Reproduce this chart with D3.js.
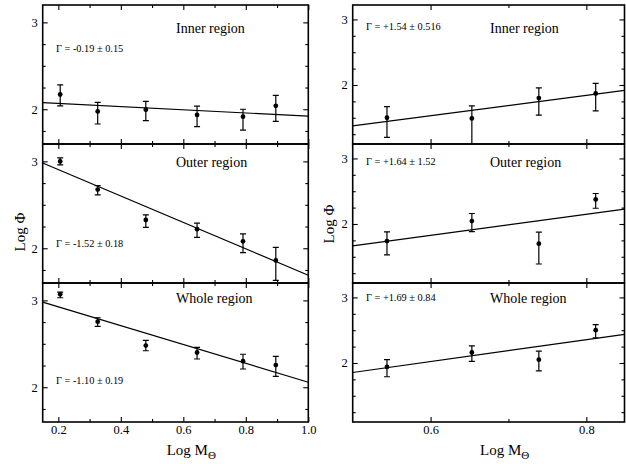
<!DOCTYPE html>
<html><head><meta charset="utf-8">
<script src="https://cdn.jsdelivr.net/npm/d3@7"></script>
<style>
body{margin:0;background:#fff;}
svg{display:block;}
svg text{font-family:"Liberation Serif","Times New Roman",serif !important;}
</style></head><body>
<svg id="c" width="626" height="464"></svg>
<script>
// ---------- data ----------
const leftMass  = [0.206, 0.326, 0.48, 0.644, 0.791, 0.896];
const rightMass = [0.544, 0.653, 0.739, 0.812];
const regionNames = ["Inner region", "Outer region", "Whole region"];

const leftInnerPhi  = [2.17, 1.975, 1.995, 1.935, 1.915, 2.04];
const leftInnerTop  = [2.28, 2.08, 2.09, 2.035, 2.00, 2.16];
const leftInnerBot  = [2.04, 1.83, 1.87, 1.80, 1.76, 1.86];
const leftOuterPhi  = [3.00, 2.675, 2.325, 2.22, 2.08, 1.86];
const leftOuterTop  = [3.04, 2.72, 2.385, 2.29, 2.165, 2.01];
const leftOuterBot  = [2.96, 2.615, 2.24, 2.125, 1.95, 1.63];
const leftWholePhi  = [3.07, 2.755, 2.48, 2.40, 2.30, 2.255];
const leftWholeTop  = [3.095, 2.80, 2.54, 2.46, 2.38, 2.355];
const leftWholeBot  = [3.03, 2.70, 2.42, 2.325, 2.21, 2.125];

const rightInnerPhi = [1.50, 1.49, 1.80, 1.87];
const rightInnerTop = [1.67, 1.68, 1.955, 2.025];
const rightInnerBot = [1.20, 1.05, 1.54, 1.605];
const rightOuterPhi = [1.74, 2.045, 1.70, 2.375];
const rightOuterTop = [1.88, 2.16, 1.875, 2.465];
const rightOuterBot = [1.53, 1.885, 1.39, 2.24];
const rightWholePhi = [1.94, 2.16, 2.05, 2.50];
const rightWholeTop = [2.05, 2.26, 2.18, 2.585];
const rightWholeBot = [1.79, 2.025, 1.88, 2.385];

const leftGamma  = ["\u0393 = -0.19 \u00b1 0.15", "\u0393 = -1.52 \u00b1 0.18", "\u0393 = -1.10 \u00b1 0.19"];
const rightGamma = ["\u0393 = +1.54 \u00b1 0.516", "\u0393 = +1.64 \u00b1 1.52", "\u0393 = +1.69 \u00b1 0.84"];
const leftSlope      = [-0.185, -1.52, -1.085];
const leftIntercept  = [2.105, 3.209, 3.143];
const rightSlope     = [1.554, 1.61, 1.67];
const rightIntercept = [0.599, 0.86, 1.02];

const leftXMajor  = [0.2, 0.4, 0.6, 0.8, 1.0];
const leftXMinor  = [0.3, 0.5, 0.7, 0.9];
const rightXMajor = [0.6, 0.8];
const rightXMinor = [0.7];
const yMajor      = [2, 3];
const leftYMinor  = [1.75, 2.25, 2.5, 2.75];
const rightYMinor = [1.25, 1.5, 1.75, 2.25, 2.5, 2.75];

// ---------- layout ----------
const svg = d3.select("#c");
const rowTops = [5, 144, 283];
const rowH = 139;
const nameOffset = [28, 22.7, 19.7];
const leftGammaY  = [47, 102.7, 101];
const rightGammaY = [25, 21, 18];

const cols = [
  {x0: 42.7, x1: 308.3, xdom: [0.15, 1.0], ydom: [1.6, 3.2], mass: leftMass,
   phi: [leftInnerPhi, leftOuterPhi, leftWholePhi],
   top: [leftInnerTop, leftOuterTop, leftWholeTop],
   bot: [leftInnerBot, leftOuterBot, leftWholeBot],
   gamma: leftGamma, gy: leftGammaY, slope: leftSlope, icpt: leftIntercept,
   xMaj: leftXMajor, xMin: leftXMinor, yMin: leftYMinor,
   nameX: 133.3, ytitleX: 25, ytitleY: 232, xtitleX: 166.7},
  {x0: 352.7, x1: 624.5, xdom: [0.5, 0.849], ydom: [1.1, 3.22], mass: rightMass,
   phi: [rightInnerPhi, rightOuterPhi, rightWholePhi],
   top: [rightInnerTop, rightOuterTop, rightWholeTop],
   bot: [rightInnerBot, rightOuterBot, rightWholeBot],
   gamma: rightGamma, gy: rightGammaY, slope: rightSlope, icpt: rightIntercept,
   xMaj: rightXMajor, xMin: rightXMinor, yMin: rightYMinor,
   nameX: 137.3, ytitleX: 334, ytitleY: 224, xtitleX: 480}
];

cols.forEach((c, ci) => {
  const x = d3.scaleLinear().domain(c.xdom).range([c.x0, c.x1]);
  for (let r = 0; r < 3; r++) {
    const t = rowTops[r], b = t + rowH;
    const y = d3.scaleLinear().domain(c.ydom).range([b, t]);
    const clipId = `clip${ci}${r}`;
    svg.append("clipPath").attr("id", clipId).append("rect")
      .attr("x", c.x0).attr("y", t).attr("width", c.x1 - c.x0).attr("height", rowH);
    const g = svg.append("g");
    const plot = g.append("g").attr("clip-path", `url(#${clipId})`);

    // fit line
    const line = d3.line().x(d => x(d)).y(d => y(c.icpt[r] + c.slope[r] * d));
    plot.append("path").datum(c.xdom).attr("d", line)
      .attr("fill", "none").attr("stroke", "#000").attr("stroke-width", 1.2);

    // error bars
    const pts = c.mass.map((m, i) => ({m, v: c.phi[r][i], hi: c.top[r][i], lo: c.bot[r][i]}));
    const eb = plot.selectAll(".eb").data(pts).enter().append("g");
    eb.append("line").attr("x1", d => x(d.m)).attr("x2", d => x(d.m))
      .attr("y1", d => y(d.hi)).attr("y2", d => y(d.lo))
      .attr("stroke", "#000").attr("stroke-width", 1.2);
    ["hi", "lo"].forEach(k => {
      eb.append("line").attr("x1", d => x(d.m) - 3).attr("x2", d => x(d.m) + 3)
        .attr("y1", d => y(d[k])).attr("y2", d => y(d[k]))
        .attr("stroke", "#000").attr("stroke-width", 1.2);
    });
    eb.append("circle").attr("cx", d => x(d.m)).attr("cy", d => y(d.v)).attr("r", 2.4).attr("fill", "#000");

    // axes (ticks pointing inward)
    const axStyle = sel => { sel.select(".domain").remove(); sel.selectAll("line").attr("stroke", "#000").attr("stroke-width", 1.1); };
    g.append("g").attr("transform", `translate(${c.x0},0)`)
      .call(d3.axisLeft(y).tickValues(yMajor).tickSize(-5).tickPadding(5).tickFormat(d3.format("d")))
      .call(axStyle)
      .call(s => s.selectAll("text").attr("font-size", 12.5).attr("fill", "#000"));
    g.append("g").attr("transform", `translate(${c.x0},0)`)
      .call(d3.axisLeft(y).tickValues(c.yMin).tickSize(-3).tickFormat("")).call(axStyle);
    g.append("g").attr("transform", `translate(${c.x1},0)`)
      .call(d3.axisRight(y).tickValues(yMajor).tickSize(-5).tickFormat("")).call(axStyle);
    g.append("g").attr("transform", `translate(${c.x1},0)`)
      .call(d3.axisRight(y).tickValues(c.yMin).tickSize(-3).tickFormat("")).call(axStyle);

    g.append("g").attr("transform", `translate(0,${t})`)
      .call(d3.axisTop(x).tickValues(c.xMaj).tickSize(-5).tickFormat("")).call(axStyle);
    g.append("g").attr("transform", `translate(0,${t})`)
      .call(d3.axisTop(x).tickValues(c.xMin).tickSize(-3).tickFormat("")).call(axStyle);
    const bAx = g.append("g").attr("transform", `translate(0,${b})`)
      .call(d3.axisBottom(x).tickValues(c.xMaj).tickSize(-5).tickPadding(3.5)
        .tickFormat(r === 2 ? d3.format(".1f") : "")).call(axStyle);
    bAx.selectAll("text").attr("font-size", 12.5).attr("fill", "#000");
    g.append("g").attr("transform", `translate(0,${b})`)
      .call(d3.axisBottom(x).tickValues(c.xMin).tickSize(-3).tickFormat("")).call(axStyle);

    // frame
    g.append("rect").attr("x", c.x0).attr("y", t).attr("width", c.x1 - c.x0).attr("height", rowH)
      .attr("fill", "none").attr("stroke", "#000").attr("stroke-width", 1.6);

    // annotations
    g.append("text").attr("x", c.x0 + c.nameX).attr("y", t + nameOffset[r])
      .attr("font-size", 14).attr("fill", "#000").text(regionNames[r]);
    g.append("text").attr("x", c.x0 + 13.3).attr("y", t + c.gy[r])
      .attr("font-size", 10.3).attr("fill", "#000").text(c.gamma[r]);
  }

  // axis titles
  svg.append("text").attr("transform", `translate(${c.ytitleX},${c.ytitleY}) rotate(-90)`)
    .attr("text-anchor", "middle").attr("font-size", 15).attr("fill", "#000").text("Log \u03a6");
  const xt = svg.append("text").attr("x", c.xtitleX).attr("y", 455).attr("font-size", 15).attr("fill", "#000");
  xt.append("tspan").text("Log M");
  xt.append("tspan").attr("dy", 4).attr("font-size", 11).text("\u0398");
});
</script>
</body></html>
